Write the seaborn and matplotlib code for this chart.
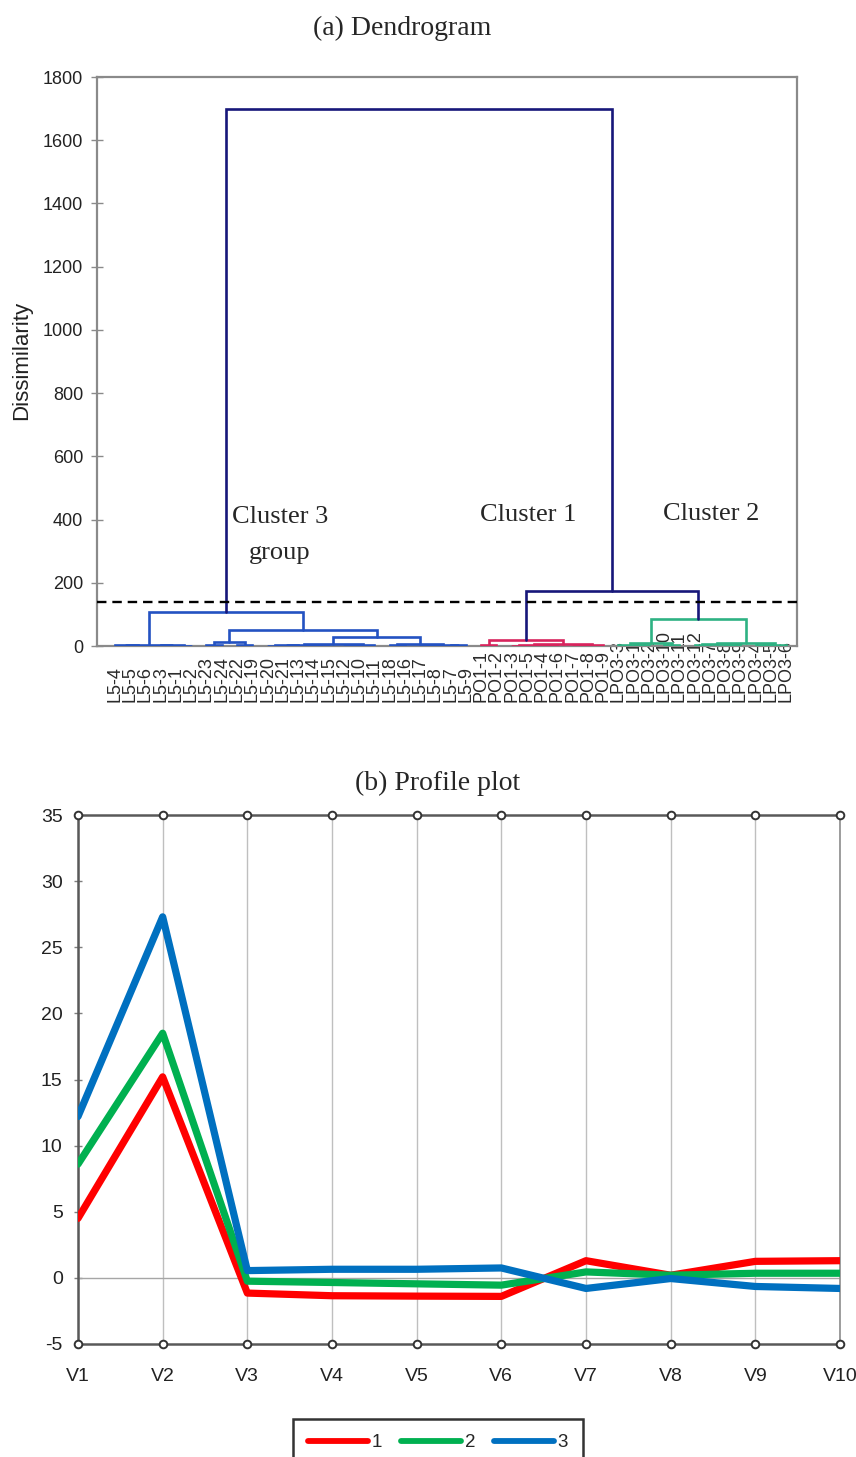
import numpy as np
import pandas as pd
import matplotlib
matplotlib.use("Agg")
import matplotlib.pyplot as plt
import seaborn as sns

# ---------------- data ----------------
leaf_labels = ["L5-4", "L5-5", "L5-6", "L5-3", "L5-1", "L5-2", "L5-23", "L5-24", "L5-22", "L5-19",
               "L5-20", "L5-21", "L5-13", "L5-14", "L5-15", "L5-12", "L5-10", "L5-11", "L5-18", "L5-16",
               "L5-17", "L5-8", "L5-7", "L5-9",
               "PO1-1", "PO1-2", "PO1-3", "PO1-5", "PO1-4", "PO1-6", "PO1-7", "PO1-8", "PO1-9",
               "LPO3-3", "LPO3-1", "LPO3-2", "LPO3-10", "LPO3-11", "LPO3-12", "LPO3-7", "LPO3-8",
               "LPO3-9", "LPO3-4", "LPO3-5", "LPO3-6"]

# merges (scipy-like: new node ids start at len(leaf_labels))
merge_left = [1, 0, 4, 3, 46, 6, 8, 50, 10, 53, 13, 54, 15, 57, 56, 18, 20, 22, 61, 60, 59, 52, 49,
              24, 26, 28, 69, 30, 72, 71, 68,
              34, 33, 36, 77, 38, 40, 80, 42, 83, 82, 79,
              75, 67]
merge_right = [2, 45, 5, 47, 48, 7, 9, 51, 11, 12, 14, 55, 16, 17, 58, 19, 21, 23, 62, 63, 64, 65, 66,
               25, 27, 29, 70, 31, 32, 73, 74,
               35, 76, 37, 78, 39, 41, 81, 43, 44, 84, 85,
               86, 87]
merge_height = [1.0, 2.0, 1.5, 3.0, 4.0, 3.0, 4.0, 14.0, 1.0, 2.0, 1.5, 4.0, 1.0, 3.0, 7.0, 2.0, 1.5, 2.5,
                4.0, 7.0, 28.0, 50.0, 108.0,
                2.0, 1.5, 2.0, 4.0, 1.5, 3.0, 6.0, 18.0,
                2.0, 4.0, 3.0, 8.0, 2.5, 3.0, 6.0, 2.0, 4.0, 10.0, 85.0,
                175.0, 1700.0]
merge_group = ["L5"] * 23 + ["PO1"] * 8 + ["LPO3"] * 11 + ["top"] * 2

cut_height = 140
cluster_names = ["Cluster 3", "Cluster 1", "Cluster 2"]

variables = ["V1", "V2", "V3", "V4", "V5", "V6", "V7", "V8", "V9", "V10"]
profile_1 = [4.5, 15.2, -1.15, -1.35, -1.38, -1.4, 1.3, 0.2, 1.25, 1.3]
profile_2 = [8.6, 18.5, -0.25, -0.35, -0.45, -0.55, 0.45, 0.2, 0.35, 0.35]
profile_3 = [12.2, 27.3, 0.55, 0.65, 0.65, 0.75, -0.8, -0.05, -0.65, -0.8]

# ---------------- style ----------------
sns.set_theme(style="white")
plt.rcParams["font.family"] = ["Liberation Sans", "DejaVu Sans"]
plt.rcParams["axes.unicode_minus"] = False
serif = ["Liberation Serif", "DejaVu Serif"]

fig = plt.figure(figsize=(8.56, 14.57), dpi=100)
fig.patch.set_facecolor("white")

# ---------------- (a) dendrogram ----------------
ax1 = fig.add_axes([97 / 856, 1 - 646 / 1457, 700 / 856, 569 / 1457])
group_colors = {"L5": "#2352C2", "PO1": "#D8245D", "LPO3": "#2EB283", "top": "#17177A"}

n = len(leaf_labels)
node_x = {i: float(i) for i in range(n)}
node_h = {i: 0.0 for i in range(n)}
for k, (l, r, h, g) in enumerate(zip(merge_left, merge_right, merge_height, merge_group)):
    xl, xr = node_x[l], node_x[r]
    ax1.plot([xl, xl, xr, xr], [node_h[l], h, h, node_h[r]],
             color=group_colors[g], lw=1.9, solid_joinstyle="miter", zorder=3)
    node_x[n + k] = (xl + xr) / 2
    node_h[n + k] = h

ax1.axhline(cut_height, color="black", lw=1.7, ls=(0, (4, 2.5)), zorder=4)

ax1.set_xlim(-1.18, 44.72)
ax1.set_ylim(0, 1800)
ax1.set_yticks(np.arange(0, 1801, 200))
ax1.tick_params(axis="y", labelsize=13, length=8, width=1, color="#8a8a8a", direction="inout",
                left=True, labelcolor="#222222", pad=6)
ax1.set_xticks(range(n))
ax1.set_xticklabels(leaf_labels, rotation=90, fontsize=13, color="#2a2a2a", va="bottom")
ax1.tick_params(axis="x", length=0, pad=40)
for s in ax1.spines.values():
    s.set_color("#8a8a8a")
    s.set_linewidth(1.6)

fig.text(22 / 856, 1 - 360 / 1457, "Dissimilarity", rotation=90, ha="center", va="center",
         fontsize=16, color="#222222")
fig.text(402 / 856, 1 - 28 / 1457, "(a) Dendrogram", ha="center", va="center",
         fontsize=20, family=serif)

ax1.text(10.8, 408, cluster_names[0], ha="center", va="center", fontsize=19, family=serif)
ax1.text(10.8, 293, "group", ha="center", va="center", fontsize=19, family=serif)
ax1.text(27.1, 413, cluster_names[1], ha="center", va="center", fontsize=19, family=serif)
ax1.text(39.1, 419, cluster_names[2], ha="center", va="center", fontsize=19, family=serif)

# ---------------- (b) profile plot ----------------
ax2 = fig.add_axes([78 / 856, 1 - 1344 / 1457, 762 / 856, 529 / 1457])
df = pd.DataFrame({
    "Variable": variables * 3,
    "Value": profile_1 + profile_2 + profile_3,
    "Cluster": ["1"] * 10 + ["2"] * 10 + ["3"] * 10,
})
df["pos"] = df["Variable"].map({v: i for i, v in enumerate(variables)})
palette = {"1": "#FF0000", "2": "#00B050", "3": "#0070C0"}
sns.lineplot(data=df, x="pos", y="Value", hue="Cluster", palette=palette, lw=5.2,
             ax=ax2, sort=False, legend=True, zorder=3)

ax2.set_xlim(0, len(variables) - 1)
ax2.set_ylim(-5, 35)
ax2.set_xticks(range(len(variables)))
ax2.set_xticklabels(variables)
ax2.set_yticks(np.arange(-5, 36, 5))
ax2.set_xlabel("")
ax2.set_ylabel("")
ax2.grid(axis="x", color="#bfbfbf", lw=1)
ax2.axhline(0, color="#a6a6a6", lw=1, zorder=1)
ax2.tick_params(axis="x", length=0, pad=17, labelsize=14, labelcolor="#222222")
ax2.tick_params(axis="y", length=6, direction="inout", width=1, color="#7f7f7f",
                left=True, labelsize=14, labelcolor="#222222", pad=8)
for s in ax2.spines.values():
    s.set_color("#595959")
    s.set_linewidth(1.8)
ax2.spines["right"].set_color("#8c8c8c")
ax2.spines["right"].set_linewidth(1.2)
for yy in (0, 1):
    ax2.plot(range(len(variables)), [yy] * len(variables), transform=ax2.get_xaxis_transform(),
             ls="none", marker="o", ms=5.5, mfc="white", mec="#333333", mew=1.4,
             clip_on=False, zorder=5)

leg = ax2.legend(loc="upper center", ncol=3,
                 frameon=True, fancybox=False, edgecolor="black", fontsize=13.5,
                 handlelength=3.2, handletextpad=0.2, columnspacing=1.0,
                 borderpad=0.8, borderaxespad=0)
leg.set_bbox_to_anchor((438 / 856, 1 - 1419 / 1457), transform=fig.transFigure)
leg.get_frame().set_linewidth(1.8)
for line in leg.get_lines():
    line.set_linewidth(4.2)
    line.set_solid_capstyle("round")

fig.text(438 / 856, 1 - 783 / 1457, "(b) Profile plot", ha="center", va="center",
         fontsize=20, family=serif)

fig.savefig("out.png", dpi=100, facecolor="white")
